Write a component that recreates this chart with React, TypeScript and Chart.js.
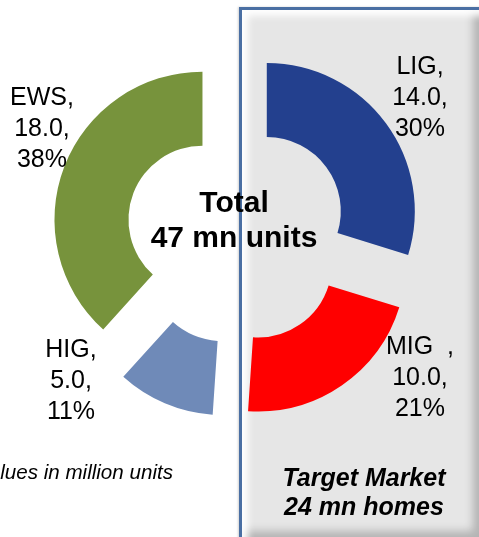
import React, { useEffect, useRef } from 'react';
import { Chart, registerables } from 'chart.js';

Chart.register(...registerables);

// ---- data ----
const categories = ['LIG', 'MIG  ', 'HIG', 'EWS'];
const values = [14.0, 10.0, 5.0, 18.0];
const centerTitle = ['Total', '47 mn units'];
const targetText = ['Target Market', '24 mn homes'];
const noteText = 'Values in million units';

// ---- styles ----
const colors = ['#23408e', '#ff0000', '#6f8ab8', '#77933c'];
const explodeDistance = 37;
const labelLayout = [
  { cx: 420, top: 50 },
  { cx: 420, top: 330 },
  { cx: 71, top: 333 },
  { cx: 42, top: 81 },
];

const explodePlugin = {
  id: 'explodeSlices',
  afterDatasetUpdate(chart: any, args: any) {
    const meta = chart.getDatasetMeta(args.index);
    meta.data.forEach((arc: any) => {
      const mid = (arc.startAngle + arc.endAngle) / 2;
      arc.x += Math.cos(mid) * explodeDistance;
      arc.y += Math.sin(mid) * explodeDistance;
    });
  },
};

const FONT = '"Liberation Sans", Arial, sans-serif';

export default function App() {
  const ref = useRef<HTMLCanvasElement | null>(null);

  useEffect(() => {
    document.body.style.margin = '0';
    const chart = new Chart(ref.current as HTMLCanvasElement, {
      type: 'doughnut',
      data: {
        labels: categories,
        datasets: [
          {
            data: values,
            backgroundColor: colors,
            borderWidth: 0,
          },
        ],
      },
      options: {
        animation: false,
        responsive: false,
        maintainAspectRatio: false,
        events: [],
        cutout: '50%',
        radius: 148,
        layout: { padding: { left: 0, right: 5, top: 0, bottom: 71 } },
        plugins: {
          legend: { display: false },
          tooltip: { enabled: false },
        },
      } as any,
      plugins: [explodePlugin],
    });
    return () => chart.destroy();
  }, []);

  const total = values.reduce((a, b) => a + b, 0);

  return (
    <div
      style={{
        position: 'fixed',
        left: 0,
        top: 0,
        width: 479,
        height: 537,
        overflow: 'hidden',
        background: '#ffffff',
        fontFamily: FONT,
      }}
    >
      <div
        style={{
          position: 'absolute',
          left: 239,
          top: 7,
          width: 238,
          height: 528,
          background: '#e6e6e6',
          borderTop: '3px solid #4a6fa3',
          borderLeft: '3px solid #4a6fa3',
          borderRight: '3px solid #4a6fa3',
          borderBottom: '3px solid #4a6fa3',
          boxShadow:
            'inset 8px 8px 7px -2px rgba(255,255,255,0.95), inset -9px -9px 8px -2px rgba(0,0,0,0.22), -1px 0 2px rgba(0,0,0,0.18)',
        }}
      />
      <canvas
        ref={ref}
        width={479}
        height={537}
        style={{ position: 'absolute', left: 0, top: 0, width: 479, height: 537 }}
      />
      {categories.map((c, i) => (
        <div
          key={i}
          style={{
            position: 'absolute',
            left: labelLayout[i].cx - 70,
            top: labelLayout[i].top,
            width: 140,
            textAlign: 'center',
            fontSize: 25,
            lineHeight: '31px',
            color: '#000',
            whiteSpace: 'pre',
          }}
        >
          {c + ','}
          <br />
          {values[i].toFixed(1) + ','}
          <br />
          {Math.round((values[i] / total) * 100) + '%'}
        </div>
      ))}
      <div
        style={{
          position: 'absolute',
          left: 134,
          top: 184,
          width: 200,
          textAlign: 'center',
          fontSize: 30,
          fontWeight: 'bold',
          lineHeight: '35px',
          color: '#000',
          whiteSpace: 'nowrap',
        }}
      >
        {centerTitle[0]}
        <br />
        {centerTitle[1]}
      </div>
      <div
        style={{
          position: 'absolute',
          left: 264,
          top: 463,
          width: 200,
          textAlign: 'center',
          fontSize: 25,
          fontWeight: 'bold',
          fontStyle: 'italic',
          lineHeight: '29px',
          color: '#000',
          whiteSpace: 'nowrap',
        }}
      >
        {targetText[0]}
        <br />
        {targetText[1]}
      </div>
      <div
        style={{
          position: 'absolute',
          left: -127,
          top: 460,
          width: 300,
          textAlign: 'right',
          fontSize: 20.6,
          fontStyle: 'italic',
          lineHeight: '23px',
          color: '#000',
          whiteSpace: 'nowrap',
        }}
      >
        {noteText}
      </div>
    </div>
  );
}
